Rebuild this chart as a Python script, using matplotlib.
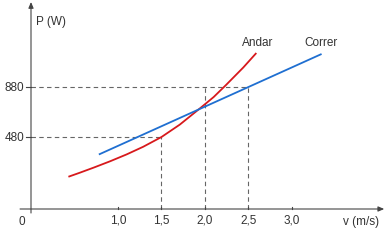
import numpy as np
import matplotlib.pyplot as plt

plt.rcParams['font.family'] = ['Liberation Sans', 'DejaVu Sans']

# walking (Andar) power curve
v_andar = [0.43, 0.56, 0.72, 0.91, 1.10, 1.29, 1.50, 1.71, 1.94, 2.10, 2.24, 2.44, 2.59]
p_andar = [162, 194, 235, 286, 341, 402, 480, 579, 708, 800, 895, 1036, 1152]

# running (Correr) straight line
v_correr = [0.78, 3.34]
p_correr = [340, 1144]

xticks = [1.0, 1.5, 2.0, 2.5, 3.0]
xtick_labels = ["1,0", "1,5", "2,0", "2,5", "3,0"]
yticks = [480, 880]
ytick_labels = ["480", "880"]
# dashed guides: (v, P) corner points
guides = [(1.5, 480), (2.0, 880), (2.5, 880)]

axis_col = "#444444"
text_col = "#333333"
P_AX = -96  # where the v axis crosses

fig = plt.figure(figsize=(3.88, 2.51), dpi=100)
ax = fig.add_axes([0, 0, 1, 1])
ax.set_xlim(-31 / 87, 357 / 87)
ax.set_ylim(-424, 1584)
ax.axis("off")

# dashed helper lines
dash = dict(color="#666666", lw=0.8, ls=(0, (4, 3)))
ax.plot([0, 2.5], [880, 880], **dash)
ax.plot([0, 1.5], [480, 480], **dash)
for v, p in guides:
    ax.plot([v, v], [P_AX, p], **dash)

# curves
ax.plot(v_andar, p_andar, color="#d7191c", lw=1.3, solid_capstyle="butt")
ax.plot(v_correr, p_correr, color="#1f6fd1", lw=1.3, solid_capstyle="butt")

# axes with arrows
ax.annotate("", xy=(4.06, P_AX), xytext=(-0.126, P_AX),
            arrowprops=dict(arrowstyle="-|>,head_length=0.35,head_width=0.15",
                            color=axis_col, lw=0.8, shrinkA=0, shrinkB=0))
ax.annotate("", xy=(0, 1560), xytext=(0, -128),
            arrowprops=dict(arrowstyle="-|>,head_length=0.35,head_width=0.15",
                            color=axis_col, lw=0.8, shrinkA=0, shrinkB=0))

# ticks
for v in xticks:
    ax.plot([v, v], [P_AX, P_AX + 20], color=axis_col, lw=0.8)
for p in yticks:
    ax.plot([-0.06, 0], [p, p], color=axis_col, lw=0.8)

fs = 8.5
for v, lab in zip(xticks, xtick_labels):
    ax.text(v, -184, lab, ha="center", va="center", fontsize=fs, color=text_col)
for p, lab in zip(yticks, ytick_labels):
    ax.text(-0.08, p, lab, ha="right", va="center", fontsize=fs, color=text_col)
ax.text(-0.1, -192, "0", ha="center", va="center", fontsize=fs, color=text_col)

ax.text(0.06, 1408, "P (W)", ha="left", va="center", fontsize=fs, color=text_col)
ax.text(2.6, 1240, "Andar", ha="center", va="center", fontsize=fs, color=text_col)
ax.text(3.33, 1240, "Correr", ha="center", va="center", fontsize=fs, color=text_col)
ax.text(3.79, -192, "v (m/s)", ha="center", va="center", fontsize=fs, color=text_col)

fig.savefig("out.png", dpi=100)
